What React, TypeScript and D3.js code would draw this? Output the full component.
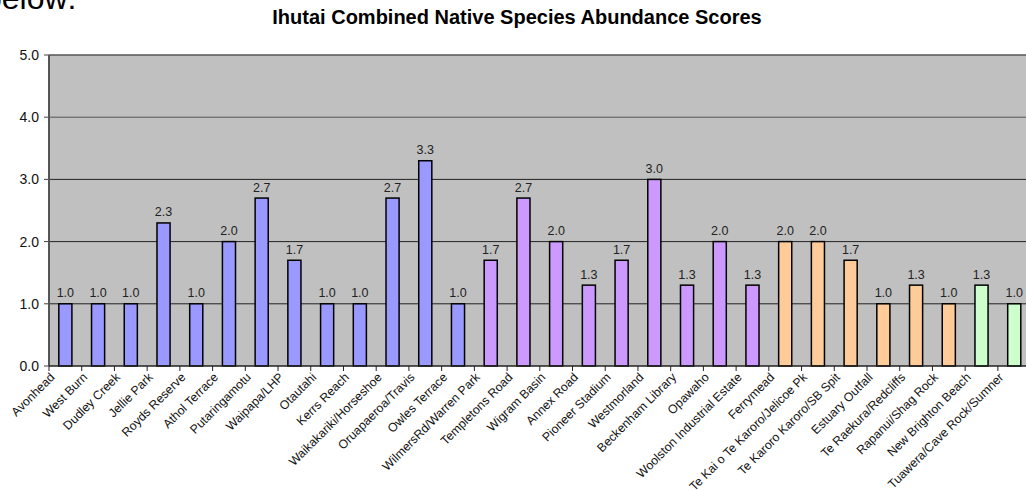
import React from "react";
import * as d3 from "d3";

const title = "Ihutai Combined Native Species Abundance Scores";

const categories = [
  "Avonhead", "West Burn", "Dudley Creek", "Jellie Park", "Royds Reserve",
  "Athol Terrace", "Putaringamotu", "Waipapa/LHP", "Otautahi", "Kerrs Reach",
  "Waikakariki/Horseshoe", "Oruapaeroa/Travis", "Owles Terrace", "WilmersRd/Warren Park",
  "Templetons Road", "Wigram Basin", "Annex Road", "Pioneer Stadium", "Westmorland",
  "Beckenham Library", "Opawaho", "Woolston Industrial Estate", "Ferrymead",
  "Te Kai o Te Karoro/Jelicoe Pk", "Te Karoro Karoro/SB Spit", "Estuary Outfall",
  "Te Raekura/Redcliffs", "Rapanui/Shag Rock", "New Brighton Beach", "Tuawera/Cave Rock/Sumner",
];

const values = [
  1.0, 1.0, 1.0, 2.3, 1.0, 2.0, 2.7, 1.7, 1.0, 1.0, 2.7, 3.3, 1.0,
  1.7, 2.7, 2.0, 1.3, 1.7, 3.0, 1.3, 2.0, 1.3,
  2.0, 2.0, 1.7, 1.0, 1.3, 1.0,
  1.3, 1.0,
];

const groups = [
  "a", "a", "a", "a", "a", "a", "a", "a", "a", "a", "a", "a", "a",
  "b", "b", "b", "b", "b", "b", "b", "b", "b",
  "c", "c", "c", "c", "c", "c",
  "d", "d",
];

const groupKeys = ["a", "b", "c", "d"];
const groupColors = ["#9999FF", "#CC99FF", "#FFCC99", "#CCFFCC"];

const yTicks = [0, 1, 2, 3, 4, 5];

const W = 1026;
const H = 491;
const FONT = "'Liberation Sans', Arial, Helvetica, sans-serif";

export default function App() {
  const left = 49;
  const top = 55;
  const bottom = 366;
  const step = 32.72;
  const right = left + step * categories.length;

  const x = d3.scaleBand<string>().domain(categories).range([left, right]).padding(0);
  const y = d3.scaleLinear().domain([0, 5]).range([bottom, top]);
  const color = d3.scaleOrdinal<string, string>().domain(groupKeys).range(groupColors);
  const barW = x.bandwidth() * 0.4;
  const fmt = d3.format(".1f");

  return (
    <svg
      width={W}
      height={H}
      style={{ position: "absolute", left: 0, top: 0, background: "#fff" }}
      fontFamily={FONT}
    >
      <text x={-16} y={9} fontSize={32} fill="#000">below:</text>
      <text x={517} y={24} fontSize={20} fontWeight="bold" textAnchor="middle" fill="#000">
        {title}
      </text>
      <rect x={left} y={top} width={right - left} height={bottom - top} fill="#C0C0C0" />
      {yTicks.map((t) => (
        <g key={"g" + t}>
          {t > 0 && (
            <line x1={left} x2={right} y1={y(t)} y2={y(t)} stroke={t >= 4 ? "#555" : "#222"} strokeWidth={t === 5 ? 1.5 : 1} />
          )}
          <line x1={left - 5} x2={left} y1={y(t)} y2={y(t)} stroke="#444" strokeWidth={1} />
          <text x={39} y={y(t)} dy="0.35em" fontSize={14} textAnchor="end" fill="#111">
            {fmt(t)}
          </text>
        </g>
      ))}
      {categories.map((c, i) => {
        const bx = (x(c) as number) + (x.bandwidth() - barW) / 2;
        const by = y(values[i]);
        return (
          <g key={c}>
            <rect x={bx} y={by} width={barW} height={bottom - by} fill={color(groups[i])} stroke="#000" strokeWidth={1.5} />
            <text x={bx + barW / 2} y={by - 6.5} fontSize={12.5} textAnchor="middle" fill="#222">
              {fmt(values[i])}
            </text>
          </g>
        );
      })}
      <line x1={left} x2={left} y1={top} y2={bottom} stroke="#555" strokeWidth={2} />
      <line x1={left} x2={right} y1={bottom} y2={bottom} stroke="#222" strokeWidth={1.5} />
      {categories.map((c, i) => (
        <line key={"t" + i} x1={x(c) as number} x2={x(c) as number} y1={bottom} y2={bottom + 5} stroke="#222" strokeWidth={1} />
      ))}
      {categories.map((c) => {
        const cx = (x(c) as number) + x.bandwidth() / 2;
        return (
          <text
            key={"l" + c}
            transform={`translate(${cx - 10},${bottom + 12}) rotate(-45)`}
            fontSize={12.3}
            textAnchor="end"
            fill="#111"
          >
            {c}
          </text>
        );
      })}
    </svg>
  );
}
